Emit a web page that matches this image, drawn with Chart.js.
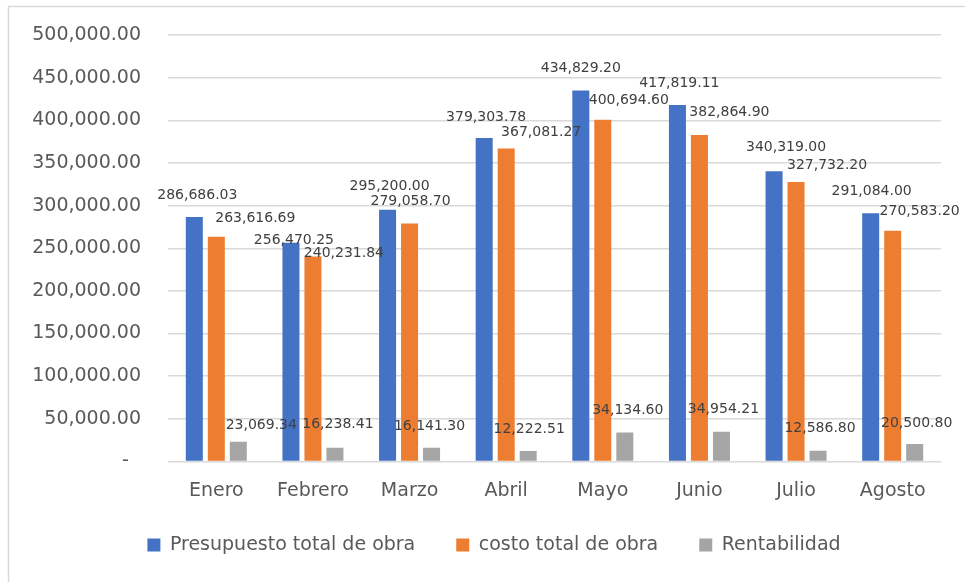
<!DOCTYPE html>
<html>
<head>
<meta charset="utf-8">
<script src="https://cdn.jsdelivr.net/npm/chart.js@4"></script>
<style>
  html, body { margin: 0; padding: 0; background: #ffffff; overflow: hidden; }
  #wrap { position: relative; width: 965px; height: 582px; }
</style>
</head>
<body>
<div id="wrap"><canvas id="c"></canvas></div>
<script>
// ---- data ----
const categories = ['Enero', 'Febrero', 'Marzo', 'Abril', 'Mayo', 'Junio', 'Julio', 'Agosto'];
const presupuesto = [286686.03, 256470.25, 295200.00, 379303.78, 434829.20, 417819.11, 340319.00, 291084.00];
const costo = [263616.69, 240231.84, 279058.70, 367081.27, 400694.60, 382864.90, 327732.20, 270583.20];
const rentabilidad = [23069.34, 16238.41, 16141.30, 12222.51, 34134.60, 34954.21, 12586.80, 20500.80];
const seriesNames = ['Presupuesto total de obra', 'costo total de obra', 'Rentabilidad'];
const yTickLabels = ['-', '50,000.00', '100,000.00', '150,000.00', '200,000.00', '250,000.00',
                     '300,000.00', '350,000.00', '400,000.00', '450,000.00', '500,000.00'];

// ---- label placement nudges (relative to bar top centre), per series ----
const labelNudges = [
  [[3,-22],[3,-2],[2,-23],[2,-21],[0,-22],[2,-22],[12,-24],[1,-22]],
  [[39,-18],[31,-3],[1,-22],[35,-16],[26,-19],[30,-23],[31,-17],[27,-19]],
  [[23,-16],[3,-23],[-2,-21],[1,-22],[3,-22],[2,-22],[2,-22],[2,-21]]
];

const FONT = '"DejaVu Sans", "Noto Sans", sans-serif';
const fmt = v => v.toLocaleString('en-US', {minimumFractionDigits: 2, maximumFractionDigits: 2});

const frame = {
  id: 'frame',
  beforeDraw(chart) {
    const ctx = chart.ctx;
    ctx.save();
    ctx.strokeStyle = '#D9D9D9';
    ctx.lineWidth = 1.5;
    ctx.beginPath();
    ctx.moveTo(8.5, chart.height + 5);
    ctx.lineTo(8.5, 6.5);
    ctx.lineTo(chart.width + 5, 6.5);
    ctx.stroke();
    ctx.restore();
  }
};

// place the legend like the Excel original (a little right and up)
const legendShift = {
  id: 'legendShift',
  afterLayout(chart) {
    const lg = chart.legend;
    if (lg) { lg.left += 9.5; lg.right += 9.5; lg.top -= 6; lg.bottom -= 6; }
  }
};

const barLabels = {
  id: 'barLabels',
  afterDatasetsDraw(chart) {
    const ctx = chart.ctx;
    ctx.save();
    ctx.font = '14px ' + FONT;
    ctx.fillStyle = '#404040';
    ctx.textAlign = 'center';
    ctx.textBaseline = 'middle';
    chart.data.datasets.forEach((ds, i) => {
      const meta = chart.getDatasetMeta(i);
      meta.data.forEach((bar, j) => {
        const n = labelNudges[i][j];
        ctx.fillText(fmt(ds.data[j]), bar.x + n[0], bar.y + n[1]);
      });
    });
    ctx.restore();
  }
};

const barOpts = { categoryPercentage: 0.683, barPercentage: 0.773, borderWidth: 0 };

new Chart(document.getElementById('c'), {
  type: 'bar',
  data: {
    labels: categories,
    datasets: [
      Object.assign({ label: seriesNames[0], data: presupuesto, backgroundColor: '#4472C4' }, barOpts),
      Object.assign({ label: seriesNames[1], data: costo, backgroundColor: '#ED7D31' }, barOpts),
      Object.assign({ label: seriesNames[2], data: rentabilidad, backgroundColor: '#A5A5A5' }, barOpts)
    ]
  },
  options: {
    responsive: true,
    maintainAspectRatio: false,
    animation: false,
    devicePixelRatio: 1,
    layout: { padding: { left: 28, right: 24, top: 35, bottom: 11.5 } },
    plugins: {
      tooltip: { enabled: false },
      legend: {
        position: 'bottom',
        labels: {
          font: { family: FONT, size: 19 },
          color: '#595959',
          boxWidth: 13,
          boxHeight: 13,
          padding: 41
        }
      }
    },
    scales: {
      x: {
        grid: { display: false, drawTicks: false },
        border: { display: false },
        ticks: { font: { family: FONT, size: 19 }, color: '#595959', padding: 18, maxRotation: 0 },
        afterFit(s) { s.height = 39; }
      },
      y: {
        min: 0,
        max: 500000,
        grid: { color: '#D9D9D9', lineWidth: 1.5, drawTicks: true, tickLength: 27, tickColor: 'rgba(0,0,0,0)' },
        border: { display: false },
        ticks: {
          stepSize: 50000,
          font: { family: FONT, size: 19 },
          color: '#595959',
          padding: 0,
          callback: (v, i) => (v === 0 ? yTickLabels[i] + '  ' : yTickLabels[i])
        },
        afterFit(s) { s.width = 140; }
      }
    }
  },
  plugins: [frame, legendShift, barLabels]
});
</script>
</body>
</html>
